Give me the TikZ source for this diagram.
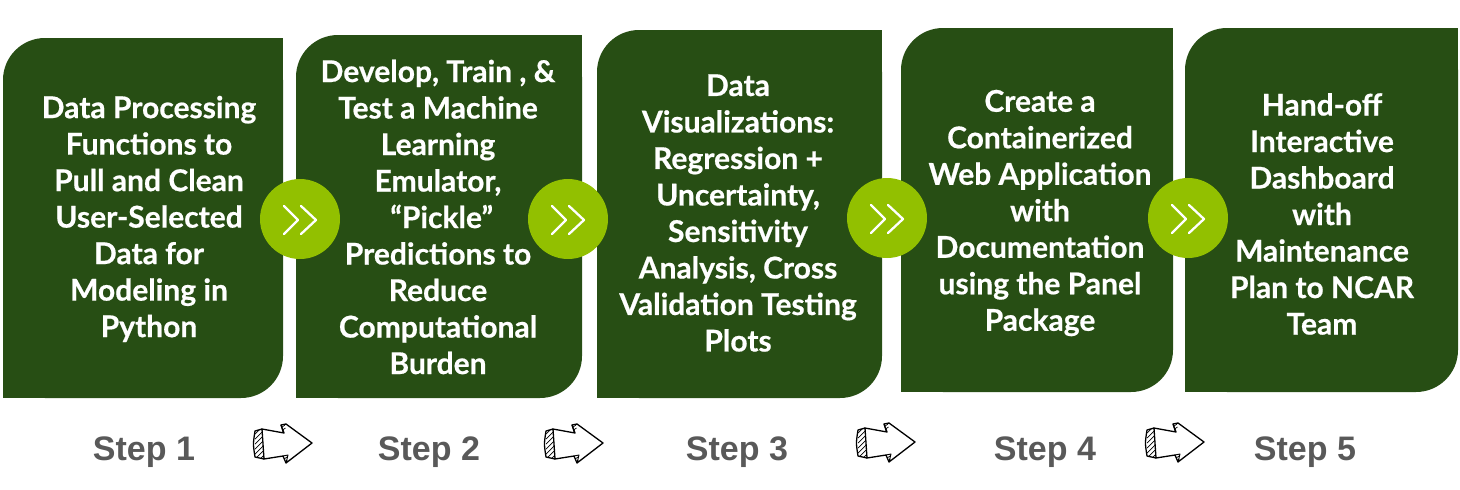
\documentclass[tikz,border=0pt]{standalone}
\usepackage{fontspec}
\setmainfont{Lato}[BoldFeatures={FakeBold=0.6}]
\newfontfamily\stepfont{Liberation Sans}
\definecolor{dg}{RGB}{39,78,20}
\definecolor{lg}{RGB}{146,192,0}
\definecolor{sg}{RGB}{89,89,89}
\newcommand\leafbox[4]{%
  \fill[dg,rounded corners=42pt] (#1,#2) rectangle (#3,#4);
  \fill[dg] (#3-50,#2) rectangle (#3,#2+50);
  \fill[dg] (#1,#4-50) rectangle (#1+50,#4);}
\newcommand\chevrons[1]{%
  \begin{scope}[shift={(#1.center)}]
    \draw[white,line width=2.3pt,line cap=round,line join=round] (-16,-13) -- (-2,1) -- (-16,15);
    \draw[white,line width=2.3pt,line cap=round,line join=round] (1,-13) -- (16,1) -- (1,15);
  \end{scope}}
\newcommand\sketcharrow[1]{%
  \begin{scope}[shift={(#1)}]
    \begin{scope}
      \clip (0,-12) .. controls (-2,1) .. (0,14) -- (9,16) -- (7,-14) -- cycle;
      \foreach \k in {-24,-19,...,26} \draw[line width=0.7pt] (0,\k+5) -- (9,\k-4);
    \end{scope}
    \draw[line width=1.3pt,line join=round] (7,-14) -- (0,-12) .. controls (-2,1) .. (0,14) -- (9,16);
    \draw[line width=1.3pt,line join=round] (7,-14) -- (29,-10) -- (26,-18) -- (31,-19) -- (57,0) -- (31,20) -- (28,13) -- (9,16) -- cycle;
    \draw[line width=0.9pt,line join=round] (26,-18) -- (28,-11);
    \draw[line width=0.7pt] (27,-16) -- (30,-18) (27.5,-13) -- (30.5,-15);
    \draw[line width=0.9pt,line join=round] (28,13) -- (33,12) -- (31,20);
    \draw[line width=0.7pt] (29,16) -- (32,14) (30,19) -- (32.5,17);
  \end{scope}}
\tikzset{
  boxtext/.style={text=white,font=\fontsize{30}{36.5}\selectfont\bfseries,align=center,inner sep=0pt},
  stepnode/.style={text=sg,font=\stepfont\bfseries\fontsize{34}{40}\selectfont,inner sep=0pt},
  chev/.style={circle,fill=lg,minimum size=80pt,inner sep=0pt}
}
\begin{document}
\begin{tikzpicture}[x=1pt,y=-1pt]
\useasboundingbox (0,0) rectangle (1460,490);
\leafbox{3}{38}{283}{398}
\leafbox{296}{35}{582}{398}
\leafbox{597}{30}{882}{398}
\leafbox{901}{28}{1173}{392}
\leafbox{1185}{28}{1458}{392}

\node[boxtext] (b1) at (149,219) {Data Processing\\Functions to\\Pull and Clean\\User-Selected\\Data for\\Modeling in\\Python};
\node[boxtext] (b2) at (438,217) {Develop, Train , \&\\Test a Machine\\Learning\\Emulator,\\ \ “Pickle”\\Predictions to\\Reduce\\Computational\\Burden};
\node[boxtext] (b3) at (738,213) {Data\\Visualizations:\\Regression +\\Uncertainty,\\Sensitivity\\Analysis, Cross\\Validation Testing\\Plots};
\node[boxtext] (b4) at (1040,213) {Create a\\Containerized\\Web Application\\with\\Documentation\\using the Panel\\Package};
\node[boxtext] (b5) at (1322,214) {Hand-off\\Interactive\\Dashboard\\with\\Maintenance\\Plan to NCAR\\Team};

\node[chev] (c1) at (300,219) {};
\node[chev] (c2) at (568,219) {};
\node[chev] (c3) at (887,218) {};
\node[chev] (c4) at (1188,218) {};
\chevrons{c1}\chevrons{c2}\chevrons{c3}\chevrons{c4}

\node[stepnode] (s1) at (144,452) {Step 1};
\node[stepnode] (s2) at (429,452) {Step 2};
\node[stepnode] (s3) at (737,452) {Step 3};
\node[stepnode] (s4) at (1045,452) {Step 4};
\node[stepnode] (s5) at (1305,452) {Step 5};

\coordinate (a1) at (255,443);
\coordinate (a2) at (546,443);
\coordinate (a3) at (858,442);
\coordinate (a4) at (1147,442);
\sketcharrow{a1}\sketcharrow{a2}\sketcharrow{a3}\sketcharrow{a4}
\end{tikzpicture}
\end{document}
